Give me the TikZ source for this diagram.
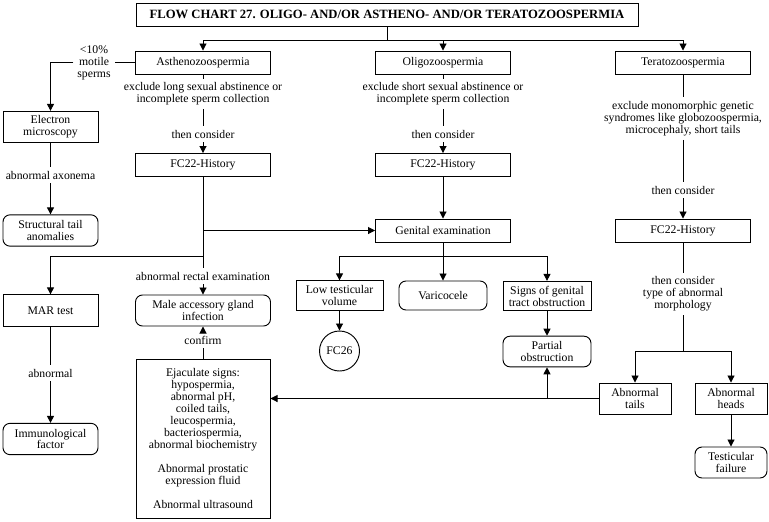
\documentclass[tikz,border=0pt]{standalone}
\usepackage{fontspec}
\setmainfont{Liberation Serif}
\usetikzlibrary{arrows.meta}

\begin{document}
\begin{tikzpicture}[
        x=0.03cm, y=-0.03cm,
        font=\fontsize{10}{10.2}\selectfont,
        line width=0.8pt,
        every node/.style={align=center, anchor=center},
        box/.style={rectangle, draw, inner sep=2pt, minimum height=0.69cm},
        rbox/.style={box, rounded corners=6pt},
        wbox/.style={box, minimum width=4.05cm},
        sbox/.style={box, minimum width=2.85cm, minimum height=0.94cm},
        srbox/.style={rbox, minimum width=2.85cm, minimum height=0.94cm},
        mbox/.style={box, minimum width=2.64cm, minimum height=0.88cm},
        mrbox/.style={rbox, minimum width=2.64cm, minimum height=0.92cm},
        tbox/.style={box, minimum width=2.16cm, minimum height=0.93cm},
        trbox/.style={rbox, minimum width=2.16cm, minimum height=0.93cm},
        ttl/.style={box, font=\fontsize{10.8}{11}\selectfont\bfseries,
                    minimum width=15.06cm},
        lbl/.style={inner sep=3pt},
        arr/.style={-{Triangle[length=6pt, width=6pt]}}
    ]
        \useasboundingbox (0,0) rectangle (769,521);

        \node[ttl] (title) at (387,14.5)
            {FLOW CHART 27. OLIGO- AND/OR ASTHENO- AND/OR TERATOZOOSPERMIA};
        \coordinate (tsplit) at (387,40);

        \node[wbox] (astheno) at (203,62.5) {Asthenozoospermia};
        \node[wbox] (oligo)   at (443,62.5) {Oligozoospermia};
        \node[wbox] (terato)  at (683,62.5) {Teratozoospermia};

        \node[lbl] (lab_motile) at (94,62.5) {\textless10\%\\motile\\sperms};
        \node[sbox]  (em)  at (50.5,127) {Electron\\microscopy};
        \node[lbl] (lab_axo) at (50.5,175) {abnormal axonema};
        \node[srbox] (sta) at (50.5,230.5) {Structural tail\\anomalies};

        \node[lbl] (lab_long) at (203,94)
            {exclude long sexual abstinence or\\incomplete sperm collection};
        \node[lbl] (lab_then1) at (203,134) {then consider};
        \node[wbox] (hist1) at (203,165) {FC22-History};

        \node[lbl] (lab_short) at (443,94)
            {exclude short sexual abstinence or\\incomplete sperm collection};
        \node[lbl] (lab_then2) at (443,134) {then consider};
        \node[wbox] (hist2) at (443,165) {FC22-History};
        \node[wbox] (genital) at (443,230.5) {Genital examination};

        \node[lbl] (lab_mono) at (683,118.5)
            {exclude monomorphic genetic\\syndromes like globozoospermia,\\microcephaly, short tails};
        \node[lbl] (lab_then3) at (683,190) {then consider};
        \node[wbox] (hist3) at (683,230.5) {FC22-History};
        \node[lbl] (lab_type) at (683,294)
            {then consider\\type of abnormal\\morphology};
        \coordinate (jmorph) at (683,351);

        \coordinate (jmar) at (203,256);
        \node[sbox]  (mar) at (50.5,310.5) {MAR test};
        \node[lbl] (lab_abn) at (50.5,373) {abnormal};
        \node[srbox] (imm) at (50.5,439) {Immunological\\factor};

        \node[lbl] (lab_rectal) at (203,276) {abnormal rectal examination};
        \node[rbox, minimum width=4.05cm, minimum height=0.93cm] (magi) at (203,310.5)
            {Male accessory gland\\infection};
        \node[lbl] (lab_confirm) at (203,340) {confirm};
        \node[box, minimum width=4.02cm, minimum height=4.77cm] (ejac) at (203,438.5)
            {Ejaculate signs:\\ hypospermia,\\abnormal pH,\\coiled tails,\\leucospermia,\\bacteriospermia,\\abnormal biochemistry\\ \\Abnormal prostatic\\expression fluid\\ \\Abnormal ultrasound};

        \coordinate (jgen) at (443,256);
        \node[mbox, minimum width=2.61cm] (ltv) at (339.5,295.5) {Low testicular\\volume};
        \node[mrbox, minimum height=0.87cm] (varic) at (443,295.5) {Varicocele};
        \node[mbox] (signs) at (547,296) {Signs of genital\\tract obstruction};
        \node[circle, draw, minimum size=1.2cm, inner sep=0pt] (fc26) at (339.5,351) {FC26};
        \node[mrbox] (partial) at (547,351.5) {Partial\\obstruction};

        \node[tbox]  (tails)   at (635,398.5) {Abnormal\\tails};
        \node[tbox]  (heads)   at (731,398.5) {Abnormal\\heads};
        \node[trbox] (failure) at (731,462.5) {Testicular\\failure};

        \draw (title) -- (tsplit);
        \draw[arr] (tsplit) -| (astheno);
        \draw[arr] (tsplit) -| (oligo);
        \draw[arr] (tsplit) -| (terato);

        \draw (astheno) -- (lab_motile);
        \draw[arr] (lab_motile) -| (em);
        \draw (em) -- (lab_axo);
        \draw[arr] (lab_axo) -- (sta);

        \draw (astheno) -- (lab_long);
        \draw (lab_long) -- (lab_then1);
        \draw[arr] (lab_then1) -- (hist1);
        \draw (hist1) -- (lab_rectal);
        \draw[arr] (hist1.south |- genital) -- (genital);
        \draw[arr] (jmar) -| (mar);
        \draw[arr] (lab_rectal) -- (magi);
        \draw (ejac) -- (lab_confirm);
        \draw[arr] (lab_confirm) -- (magi);
        \draw (mar) -- (lab_abn);
        \draw[arr] (lab_abn) -- (imm);

        \draw (oligo) -- (lab_short);
        \draw (lab_short) -- (lab_then2);
        \draw[arr] (lab_then2) -- (hist2);
        \draw[arr] (hist2) -- (genital);
        \draw (genital) -- (jgen);
        \draw[arr] (jgen) -| (ltv);
        \draw[arr] (jgen) -- (varic);
        \draw[arr] (jgen) -| (signs);
        \draw[arr] (ltv) -- (fc26);
        \draw[arr] (signs) -- (partial);

        \draw (terato) -- (lab_mono);
        \draw (lab_mono) -- (lab_then3);
        \draw[arr] (lab_then3) -- (hist3);
        \draw (hist3) -- (lab_type);
        \draw (lab_type) -- (jmorph);
        \draw[arr] (jmorph) -| (tails);
        \draw[arr] (jmorph) -| (heads);
        \draw[arr] (heads) -- (failure);
        \draw[arr] (tails.west) -- (tails.west -| ejac.east);
        \draw[arr] (tails.west -| partial.south) -- (partial.south);
    \end{tikzpicture}
\end{document}
